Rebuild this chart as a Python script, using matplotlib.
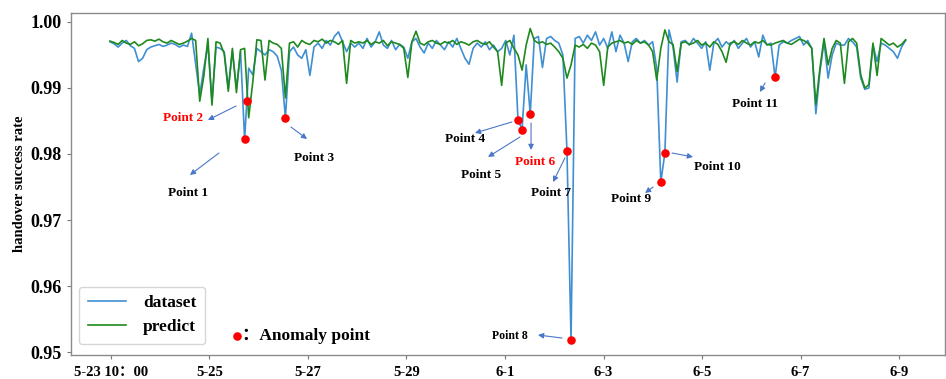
import numpy as np
import matplotlib
matplotlib.use("Agg")
import matplotlib.pyplot as plt
from matplotlib.lines import Line2D

# ---------------- data ----------------
dataset = [
    .9970, .9967, .9962, .9968, .9972, .9964, .9960, .9940, .9945, .9958,
    .9962, .9964, .9966, .9963, .9965, .9968, .9966, .9962, .9965, .9963,
    .9983, .9937, .9890, .9930, .9965, .9880, .9962, .9960, .9955, .9900,
    .9955, .9900, .9955, .9822, .9930, .9920, .9960, .9955, .9950, .9958,
    .9955, .9948, .9927, .9855, .9955, .9962, .9950, .9945, .9958, .9919,
    .9962, .9968, .9960, .9972, .9965, .9978, .9985, .9970, .9955, .9968,
    .9962, .9968, .9960, .9975, .9962, .9970, .9985, .9965, .9960, .9972,
    .9958, .9966, .9962, .9945, .9970, .9975, .9962, .9953, .9968, .9960,
    .9972, .9965, .9958, .9970, .9962, .9975, .9960, .9945, .9936, .9960,
    .9968, .9962, .9970, .9958, .9965, .9955, .9960, .9972, .9950, .9980,
    .9852, .9837, .9935, .9861, .9975, .9978, .9931, .9975, .9978, .9972,
    .9968, .9950, .9805, .9518, .9975, .9978, .9968, .9980, .9972, .9985,
    .9965, .9975, .9960, .9985, .9955, .9980, .9968, .9940, .9970, .9975,
    .9968, .9972, .9965, .9970, .9930, .9757, .9802, .9988, .9962, .9909,
    .9970, .9972, .9965, .9975, .9968, .9960, .9970, .9927, .9968, .9975,
    .9962, .9970, .9965, .9972, .9960, .9968, .9975, .9962, .9970, .9947,
    .9980, .9965, .9968, .9916, .9965, .9970, .9968, .9972, .9975, .9978,
    .9965, .9972, .9960, .9861, .9925, .9970, .9915, .9950, .9968, .9965,
    .9965, .9975, .9970, .9962, .9915, .9898, .9900, .9965, .9940, .9968,
    .9965, .9960, .9955, .9945, .9962, .9972,
]
predict = [
    .9971, .9969, .9966, .9972, .9968, .9966, .9970, .9964, .9967, .9972,
    .9973, .9971, .9974, .9970, .9968, .9972, .9969, .9966, .9968, .9971,
    .9975, .9972, .9880, .9918, .9975, .9874, .9970, .9968, .9952, .9895,
    .9960, .9893, .9958, .9960, .9855, .9909, .9973, .9972, .9912, .9972,
    .9968, .9966, .9960, .9885, .9968, .9970, .9962, .9972, .9968, .9966,
    .9972, .9970, .9974, .9968, .9972, .9970, .9966, .9972, .9907, .9972,
    .9968, .9970, .9968, .9972, .9966, .9970, .9968, .9972, .9964, .9970,
    .9968, .9966, .9960, .9916, .9970, .9986, .9968, .9965, .9970, .9972,
    .9968, .9966, .9970, .9968, .9972, .9966, .9970, .9968, .9965, .9970,
    .9972, .9968, .9966, .9970, .9962, .9955, .9904, .9968, .9972, .9960,
    .9950, .9927, .9965, .9990, .9972, .9968, .9970, .9966, .9968, .9962,
    .9955, .9945, .9915, .9935, .9965, .9962, .9966, .9960, .9968, .9965,
    .9955, .9904, .9962, .9968, .9970, .9972, .9968, .9970, .9966, .9972,
    .9968, .9970, .9965, .9955, .9912, .9960, .9988, .9970, .9966, .9925,
    .9968, .9970, .9966, .9968, .9972, .9965, .9968, .9962, .9970, .9966,
    .9955, .9939, .9968, .9970, .9966, .9972, .9968, .9965, .9970, .9968,
    .9972, .9966, .9965, .9968, .9970, .9972, .9968, .9966, .9970, .9974,
    .9972, .9968, .9960, .9875, .9930, .9975, .9935, .9960, .9972, .9968,
    .9907, .9970, .9975, .9968, .9920, .9900, .9905, .9968, .9919, .9975,
    .9970, .9965, .9968, .9962, .9966, .9973,
]
hours = np.arange(len(dataset)) * 2  # sampled every 2 hours from 5-23 10:00

anomaly_x = [66, 67, 86, 200, 202, 206, 224, 226, 270, 272, 326]
anomaly_y = [.9822, .9880, .9855, .9852, .9837, .9861, .9805, .9518, .9757, .9802, .9916]

tick_labels = ["5-23 10：00", "5-25", "5-27", "5-29", "6-1", "6-3", "6-5", "6-7", "6-9"]
y_ticks = [0.95, 0.96, 0.97, 0.98, 0.99, 1.00]

# label text, text pos (h, v), arrow tail (h, v), arrow head (h, v), colour
labels = [
    ("Point 1", (38.2, .97409), (53.4, .98015), (39.2, .97682), "black"),
    ("Point 2", (35.8, .98545), (61.8, .98727), (48.0, .98515), "red"),
    ("Point 3", (100.0, .97939), (88.7, .98409), (96.6, .98227), "black"),
    ("Point 4", (174.0, .98227), (197.0, .98485), (178.9, .98318), "black"),
    ("Point 5", (181.9, .97682), (201.0, .98258), (185.3, .97955), "black"),
    ("Point 6", (208.3, .97879), (206.4, .98470), (206.4, .98061), "red"),
    ("Point 7", (216.2, .97409), (223.0, .97939), (217.2, .97576), "black"),
    ("Point 8", (196.0, .95242), (221.6, .95212), (209.8, .95258), "black"),
    ("Point 9", (255.4, .97318), (266.2, .97500), (262.3, .97409), "black"),
    ("Point 10", (297.5, .97803), (275.5, .98015), (285.8, .97955), "black"),
    ("Point 11", (316.2, .98758), (321.1, .99076), (318.6, .98939), "black"),
]

# ---------------- style ----------------
SERIF = ["Liberation Serif", "DejaVu Serif"]
SERIF_CJK = ["Liberation Serif", "Noto Sans CJK SC", "DejaVu Serif"]
plt.rcParams["font.family"] = SERIF_CJK
plt.rcParams["font.weight"] = "bold"

BLUE = "#3f8fd2"
GREEN = "#1e8a1e"
ARROW = "#4a78c8"

fig = plt.figure(figsize=(9.46, 3.79), dpi=100)
ax = fig.add_axes([71 / 946, 1 - 355 / 379, 874 / 946, 342 / 379])

ax.plot(hours, dataset, color=BLUE, lw=1.2, zorder=2)
ax.plot(hours, predict, color=GREEN, lw=1.2, zorder=3)
ax.scatter(anomaly_x, anomaly_y, s=38, color="#ff0000", zorder=5, linewidths=0)

for text, tpos, tail, head, col in labels:
    ax.annotate("", xy=head, xytext=tail,
                arrowprops=dict(arrowstyle="-|>", color=ARROW, lw=0.8,
                                mutation_scale=8, shrinkA=0, shrinkB=0), zorder=4)
    fs = 8.5 if text == "Point 8" else 9.5
    ax.text(tpos[0], tpos[1], text, color=col, fontsize=fs, fontweight="bold",
            ha="center", va="center", family=SERIF)

ax.set_xlim(-19.1, 409.3)
ax.set_ylim(0.94955, 1.00136)
tick_pos = [(111 + 98.5 * k - 110) / 2.04 for k in range(len(tick_labels))]
ax.set_xticks(tick_pos)
ax.set_xticklabels(tick_labels, fontsize=10.5, fontweight="bold")
ax.set_yticks(y_ticks)
ax.set_yticklabels([f"{v:.2f}" for v in y_ticks], fontsize=13, fontweight="bold")
ax.tick_params(axis="both", direction="out", length=3, width=0.8, color="#777777")
ax.tick_params(axis="x", pad=5)
for s in ax.spines.values():
    s.set_color("#8a8a8a")
    s.set_linewidth(1.0)

ax.set_ylabel("handover success rate", fontsize=10.5, fontweight="bold", family=SERIF)
ax.yaxis.set_label_coords(-0.052, 0.5)

handles = [Line2D([0], [0], color=BLUE, lw=1.2), Line2D([0], [0], color=GREEN, lw=1.2)]
leg = ax.legend(handles, ["dataset", "predict"], loc="lower left",
                bbox_to_anchor=(0.009, 0.032), borderaxespad=0,
                prop=dict(family=SERIF, weight="bold", size=12.5),
                handlelength=2.2, handletextpad=1.0, frameon=True,
                edgecolor="#cccccc", borderpad=0.5, labelspacing=0.45)

ax.scatter([0.190], [0.0556], s=38, color="#ff0000", transform=ax.transAxes,
           zorder=6, linewidths=0, clip_on=False)
ax.text(0.196, 0.0556, "：Anomaly point", transform=ax.transAxes,
        fontsize=12.5, fontweight="bold", va="center", ha="left")

fig.savefig("out.png", dpi=100)
